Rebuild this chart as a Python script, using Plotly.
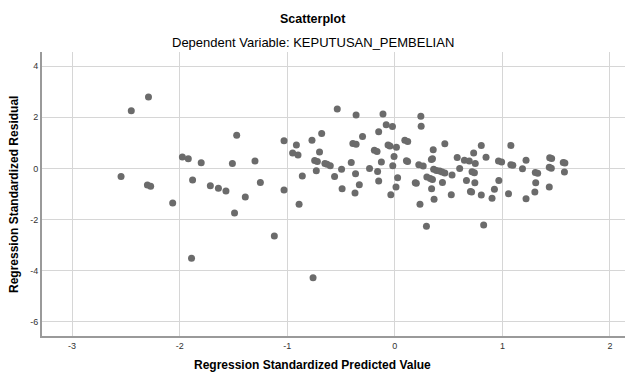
import plotly.graph_objects as go

pred = [-2.545, -2.45, -2.29, -2.30, -2.27, -2.065, -1.975, -1.92, -1.88, -1.89,
        -1.80, -1.715, -1.64, -1.57, -1.51, -1.49, -1.47, -1.39, -1.30, -1.25,
        -1.12, -1.03, -1.03, -0.95, -0.915, -0.90, -0.89, -0.86, -0.77, -0.76,
        -0.745, -0.72, -0.73, -0.70, -0.68, -0.65, -0.63, -0.60, -0.56, -0.535,
        -0.495, -0.49, -0.405, -0.39, -0.36, -0.365, -0.37, -0.36, -0.33, -0.30,
        -0.235, -0.19, -0.165, -0.16, -0.15, -0.15, -0.125, -0.11, -0.08, -0.063,
        -0.045, -0.037, -0.022, -0.019, -0.007, 0.015, 0.026, 0.011, 0.093, 0.12,
        0.108, 0.119, 0.19, 0.20, 0.223, 0.234, 0.242, 0.245, 0.264, 0.294,
        0.298, 0.33, 0.35, 0.34, 0.35, 0.357, 0.342, 0.365, 0.361, 0.387,
        0.417, 0.44, 0.443, 0.465, 0.465, 0.525, 0.532, 0.58, 0.603, 0.647,
        0.666, 0.692, 0.703, 0.714, 0.718, 0.74, 0.733, 0.748, 0.744, 0.804,
        0.804, 0.826, 0.848, 0.904, 0.926, 0.967, 0.964, 0.993, 1.057, 1.079,
        1.079, 1.097, 1.187, 1.220, 1.220, 1.302, 1.31, 1.306, 1.328, 1.436,
        1.436, 1.455, 1.44, 1.458, 1.566, 1.581, 1.577]
resid = [-0.32, 2.25, 2.79, -0.65, -0.70, -1.35, 0.45, 0.38, -0.45, -3.51,
         0.22, -0.68, -0.78, -0.88, 0.19, -1.74, 1.30, -1.12, 0.29, -0.55,
         -2.64, 1.08, -0.84, 0.60, 0.92, 0.52, -1.40, -0.30, 1.10, -4.27,
         0.31, 0.27, -0.09, 0.64, 1.36, 0.19, 0.16, 0.10, -0.32, 2.32,
         -0.03, -0.79, 0.23, 0.97, 0.94, -0.21, -0.96, 2.09, -0.64, 1.25,
         0.0, 0.71, 0.66, -0.12, -0.49, 1.43, 0.25, 2.13, 1.71, 0.92,
         0.88, -1.03, 1.64, 0.10, 0.47, 0.83, -0.36, -0.73, 1.10, 1.05,
         0.30, 0.27, -0.56, -0.58, 0.14, -1.40, 2.04, 1.65, 0.09, -2.26,
         -0.34, -0.39, -0.43, 0.35, 0.38, 0.73, -0.79, -1.21, -0.03, -0.08,
         -0.10, -0.14, -0.55, 0.96, -0.18, -1.03, -0.26, 0.43, 0.0, 0.32,
         -0.47, 0.29, -0.90, -0.92, -0.13, -0.17, 0.60, 0.19, -0.56, 0.90,
         -1.04, -2.21, 0.44, -1.17, -0.81, -0.47, 0.29, 0.25, -0.99, 0.90,
         0.14, 0.12, -0.01, -1.19, 0.32, -0.92, -0.56, -0.16, -0.19, -0.73,
         0.05, 0.01, 0.42, 0.39, 0.23, 0.21, -0.14]

x_ticks = [-3, -2, -1, 0, 1, 2]
y_ticks = [4, 2, 0, -2, -4, -6]

W, H = 625, 372
l, r, t, b = 42, 0, 52, 36
pw, ph = W - l - r, H - t - b

fig = go.Figure()
fig.add_trace(go.Scatter(
    x=pred, y=resid, mode="markers",
    marker=dict(size=7, color="#6b6b6b", line=dict(width=0)),
    hoverinfo="skip", showlegend=False,
))

font = "Liberation Sans, Arial, sans-serif"


def ann(text, px, py, angle=0, size=12):
    return dict(text=text, x=(px - l) / pw, xref="paper", y=(H - b - py) / ph,
                yref="paper", showarrow=False, textangle=angle,
                xanchor="center", yanchor="middle",
                font=dict(size=size, family=font, color="#000000"))


fig.update_layout(
    width=W, height=H,
    margin=dict(l=l, r=r, t=t, b=b),
    paper_bgcolor="white", plot_bgcolor="white",
    font=dict(family=font, color="#222222"),
    xaxis=dict(range=[-3.28, 2.14], tickvals=x_ticks, ticktext=[str(v) for v in x_ticks],
               showgrid=True, gridcolor="#d6d6d6", gridwidth=1,
               zeroline=False, showline=True, linecolor="#9a9a9a", linewidth=2,
               ticks="", tickfont=dict(size=9, color="#333333"), fixedrange=True),
    yaxis=dict(range=[-6.55, 4.55], tickvals=y_ticks, ticktext=[str(v) for v in y_ticks],
               showgrid=True, gridcolor="#d6d6d6", gridwidth=1,
               zeroline=False, showline=True, linecolor="#9a9a9a", linewidth=2,
               ticks="", tickfont=dict(size=9, color="#333333"), fixedrange=True),
    annotations=[
        ann("<b>Scatterplot</b>", W / 2, 19, size=12.5),
        ann("Dependent Variable: KEPUTUSAN_PEMBELIAN", W / 2, 43, size=13),
        ann("<b>Regression Standardized Predicted Value</b>", W / 2, 365),
        ann("<b>Regression Standardized Residual</b>", 14, 195, angle=-90),
    ],
)

fig.write_html("out.html",
               config={"displayModeBar": False, "staticPlot": True},
               post_script="document.body.style.margin='0';document.body.style.overflow='hidden';")
